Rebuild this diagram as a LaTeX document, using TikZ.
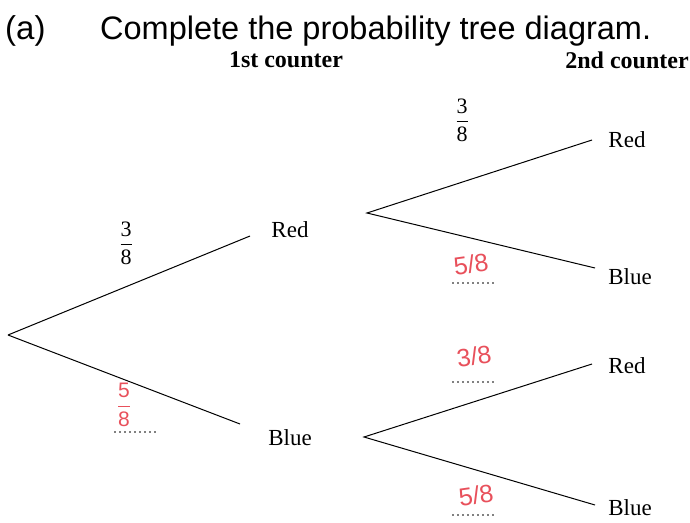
\documentclass[tikz,border=0pt]{standalone}
\usepackage{amsmath}
\usepackage{fontspec}
\setmainfont{Liberation Serif}
\newfontfamily\headfont{Liberation Sans}
\usetikzlibrary{positioning}
\definecolor{markRed}{HTML}{E8505B}

\begin{document}
\begin{tikzpicture}[x=1pt,y=-1pt,
    branch/.style={line width=1pt},
    colhead/.style={font=\fontsize{24}{28}\selectfont\bfseries, inner sep=0pt},
    outcome/.style={font=\fontsize{23}{26}\selectfont, inner sep=1pt},
    prob/.style={font=\fontsize{22}{26}\selectfont, inner sep=1pt},
    answer/.style={font=\fontsize{25}{28}\headfont, text=markRed, rotate=8, inner sep=0pt},
    answerline/.style={line width=1.8pt, line cap=round, dash pattern=on 0pt off 5pt}]
  \useasboundingbox (0,0) rectangle (690,522);
  % heading
  \node[anchor=base west, font=\fontsize{33}{36}\headfont, inner sep=0pt] (part) at (5,39) {(a)};
  \node[anchor=base west, font=\fontsize{32.5}{36}\headfont, inner sep=0pt] (task) at (100,39)
       {Complete the probability tree diagram.};
  \node[colhead] (c1) at (286,60) {1st counter};
  \node[colhead] (c2) at (627,60) {2nd counter};

  % branch points
  \coordinate (o) at (8,335);
  \coordinate (e1) at (250,236);
  \coordinate (e2) at (240,424);
  \coordinate (o1) at (367,213);
  \coordinate (e11) at (592,140);
  \coordinate (e12) at (595,268);
  \coordinate (o2) at (364,437);
  \coordinate (e21) at (592,364);
  \coordinate (e22) at (595,505);

  \draw[branch] (o) -- (e1);
  \draw[branch] (o) -- (e2);
  \draw[branch] (e11) -- (o1) -- (e12);
  \draw[branch] (e21) -- (o2) -- (e22);

  % outcomes
  \node[outcome] (red1) at (290,230) {Red};
  \node[outcome] (blue1) at (290,438) {Blue};
  \node[outcome] (red11) at (627,140) {Red};
  \node[outcome] (blue12) at (630,277) {Blue};
  \node[outcome] (red21) at (627,366) {Red};
  \node[outcome] (blue22) at (630,508) {Blue};

  % given probabilities
  \node[prob] (p1) at (126,243) {$\dfrac{\text{3}}{\text{8}}$};
  \node[prob] (p11) at (462,120) {$\dfrac{\text{3}}{\text{8}}$};

  % answer lines
  \draw[answerline] (115,432) -- ++(44,0);
  \draw[answerline] (453,283) -- ++(44,0);
  \draw[answerline] (453,382) -- ++(44,0);
  \draw[answerline] (453,515) -- ++(44,0);

  % written answers
  \node[answer, rotate=-8, font=\fontsize{21}{22}\headfont] (a2) at (124,405)
       {$\dfrac{\text{5}}{\text{8}}$};
  \node[answer] (a12) at (471,264) {5/8};
  \node[answer] (a21) at (474,356) {3/8};
  \node[answer] (a22) at (476,495) {5/8};
\end{tikzpicture}
\end{document}
